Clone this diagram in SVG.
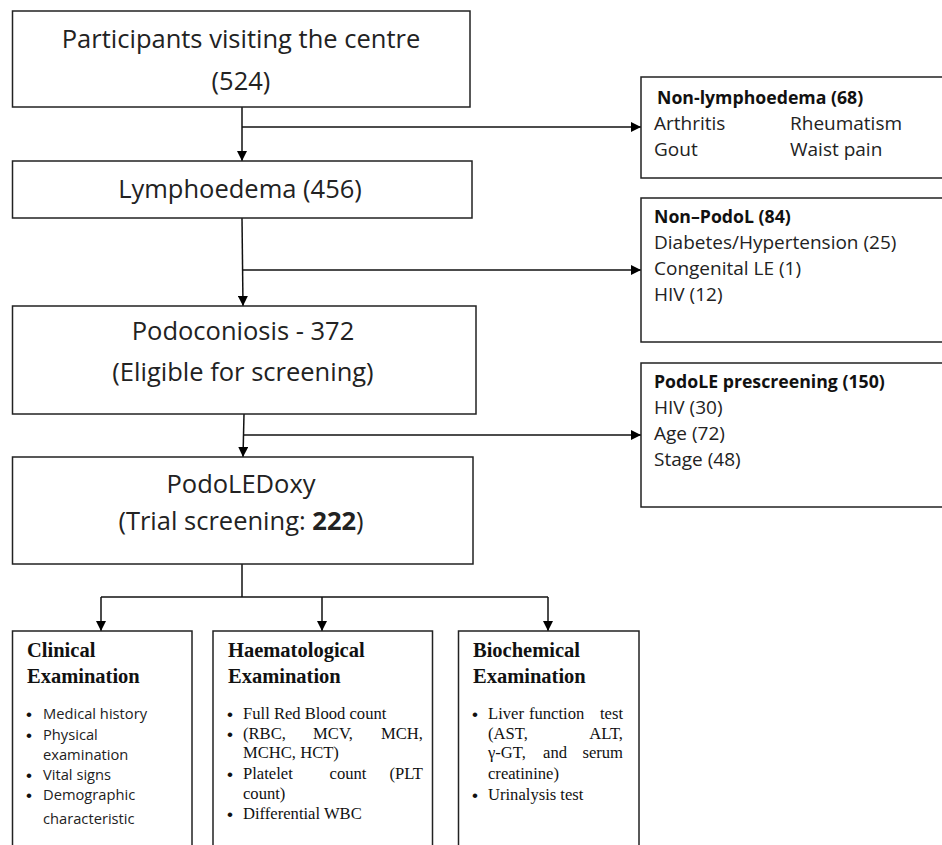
<svg xmlns="http://www.w3.org/2000/svg" width="942" height="845" viewBox="0 0 942 845">
<defs>
<marker id="ah" viewBox="0 0 10 10" refX="10" refY="5" markerWidth="10" markerHeight="10" markerUnits="userSpaceOnUse" orient="auto">
<path d="M0,0 L10,5 L0,10 z" fill="#000"/>
</marker>
<style>
.box{fill:#fff;stroke:#222;stroke-width:1.5}
.big{font-family:"Open Sans","Liberation Sans",sans-serif;font-size:25.5px;fill:#222;text-anchor:middle}
.sm{font-family:"Open Sans","Liberation Sans",sans-serif;font-size:19px;fill:#222}
.smb{font-family:"Open Sans","Liberation Sans",sans-serif;font-size:17.7px;font-weight:bold;fill:#111}
.hd{font-family:"Liberation Serif","Times New Roman",serif;font-size:20.5px;font-weight:bold;fill:#111}
.bs{font-family:"Open Sans","Liberation Sans",sans-serif;font-size:14.7px;fill:#222}
.bu{font-family:"Liberation Sans",sans-serif;font-size:17px;fill:#111}
.bt{font-family:"Liberation Serif","Times New Roman",serif;font-size:16.6px;fill:#111}
.con{fill:none;stroke:#111;stroke-width:1.5}
</style>
</defs>
<rect width="942" height="845" fill="#fff"/>

<g id="connectors">
<path class="con" d="M242,107 V161" marker-end="url(#ah)"/>
<path class="con" d="M242,127 H641" marker-end="url(#ah)"/>
<path class="con" d="M242,218 L243,306" marker-end="url(#ah)"/>
<path class="con" d="M242,270 H641" marker-end="url(#ah)"/>
<path class="con" d="M244,414 L243,457" marker-end="url(#ah)"/>
<path class="con" d="M244,435 H641" marker-end="url(#ah)"/>
<path class="con" d="M242,564 V597"/>
<path class="con" d="M101,597 H548"/>
<path class="con" d="M101,597 V631" marker-end="url(#ah)"/>
<path class="con" d="M322,597 V631" marker-end="url(#ah)"/>
<path class="con" d="M548,597 V631" marker-end="url(#ah)"/>
</g>

<g id="participants">
<rect class="box" x="12.5" y="11" width="457.5" height="96"/>
<text class="big" x="241" y="48">Participants visiting the centre</text>
<text class="big" x="241" y="90">(524)</text>
</g>

<g id="lymphoedema">
<rect class="box" x="12.5" y="161" width="459.5" height="57"/>
<text class="big" x="240" y="198">Lymphoedema (456)</text>
</g>

<g id="podoconiosis">
<rect class="box" x="12.5" y="306" width="463.5" height="108"/>
<text class="big" x="243" y="340">Podoconiosis - 372</text>
<text class="big" x="243" y="381">(Eligible for screening)</text>
</g>

<g id="podoledoxy">
<rect class="box" x="12.5" y="457" width="460.5" height="107"/>
<text class="big" x="241" y="493">PodoLEDoxy</text>
<text class="big" x="241" y="530">(Trial screening: <tspan font-weight="bold">222</tspan>)</text>
</g>

<g id="non-lymphoedema">
<rect class="box" x="641" y="77" width="310" height="101"/>
<text class="smb" x="657" y="104">Non-lymphoedema (68)</text>
<text class="sm" x="654" y="130">Arthritis</text>
<text class="sm" x="790" y="130">Rheumatism</text>
<text class="sm" x="654" y="156">Gout</text>
<text class="sm" x="790" y="156">Waist pain</text>
</g>

<g id="non-podol">
<rect class="box" x="641" y="198" width="310" height="144"/>
<text class="smb" x="654" y="223">Non–PodoL (84)</text>
<text class="sm" x="654" y="249">Diabetes/Hypertension (25)</text>
<text class="sm" x="654" y="275">Congenital LE (1)</text>
<text class="sm" x="654" y="301">HIV (12)</text>
</g>

<g id="prescreening">
<rect class="box" x="641" y="363" width="310" height="144"/>
<text class="smb" x="654" y="388">PodoLE prescreening (150)</text>
<text class="sm" x="654" y="414">HIV (30)</text>
<text class="sm" x="654" y="440">Age (72)</text>
<text class="sm" x="654" y="466">Stage (48)</text>
</g>

<g id="clinical">
<rect class="box" x="12.5" y="631" width="179.5" height="230"/>
<text class="hd" x="27" y="657">Clinical</text>
<text class="hd" x="27" y="683">Examination</text>
<text class="bu" x="26" y="720">•</text><text class="bs" x="43" y="719">Medical history</text>
<text class="bu" x="26" y="741">•</text><text class="bs" x="43" y="740">Physical</text>
<text class="bs" x="43" y="760">examination</text>
<text class="bu" x="26" y="781">•</text><text class="bs" x="43" y="780">Vital signs</text>
<text class="bu" x="26" y="801">•</text><text class="bs" x="43" y="800">Demographic</text>
<text class="bs" x="43" y="824">characteristic</text>
</g>

<g id="haematological">
<rect class="box" x="213" y="631" width="219.5" height="230"/>
<text class="hd" x="228" y="657">Haematological</text>
<text class="hd" x="228" y="683">Examination</text>
<text class="bu" x="227" y="720">•</text><text class="bt" x="243" y="719">Full Red Blood count</text>
<text class="bu" x="227" y="740">•</text><text class="bt" x="243" y="739">(RBC,</text><text class="bt" x="333" y="739" text-anchor="middle">MCV,</text><text class="bt" x="423" y="739" text-anchor="end">MCH,</text>
<text class="bt" x="243" y="758">MCHC, HCT)</text>
<text class="bu" x="227" y="780">•</text><text class="bt" x="243" y="779">Platelet</text><text class="bt" x="348" y="779" text-anchor="middle">count</text><text class="bt" x="423" y="779" text-anchor="end">(PLT</text>
<text class="bt" x="243" y="799">count)</text>
<text class="bu" x="227" y="820">•</text><text class="bt" x="243" y="819">Differential WBC</text>
</g>

<g id="biochemical">
<rect class="box" x="458.5" y="631" width="180.5" height="230"/>
<text class="hd" x="473" y="657">Biochemical</text>
<text class="hd" x="473" y="683">Examination</text>
<text class="bu" x="472" y="720">•</text><text class="bt" x="488" y="719">Liver</text><text class="bt" x="529" y="719">function</text><text class="bt" x="623" y="719" text-anchor="end">test</text>
<text class="bt" x="488" y="739">(AST,</text><text class="bt" x="623" y="739" text-anchor="end">ALT,</text>
<text class="bt" x="488" y="758">γ-GT,</text><text class="bt" x="555" y="758" text-anchor="middle">and</text><text class="bt" x="623" y="758" text-anchor="end">serum</text>
<text class="bt" x="488" y="779">creatinine)</text>
<text class="bu" x="472" y="801">•</text><text class="bt" x="488" y="800">Urinalysis test</text>
</g>
</svg>
